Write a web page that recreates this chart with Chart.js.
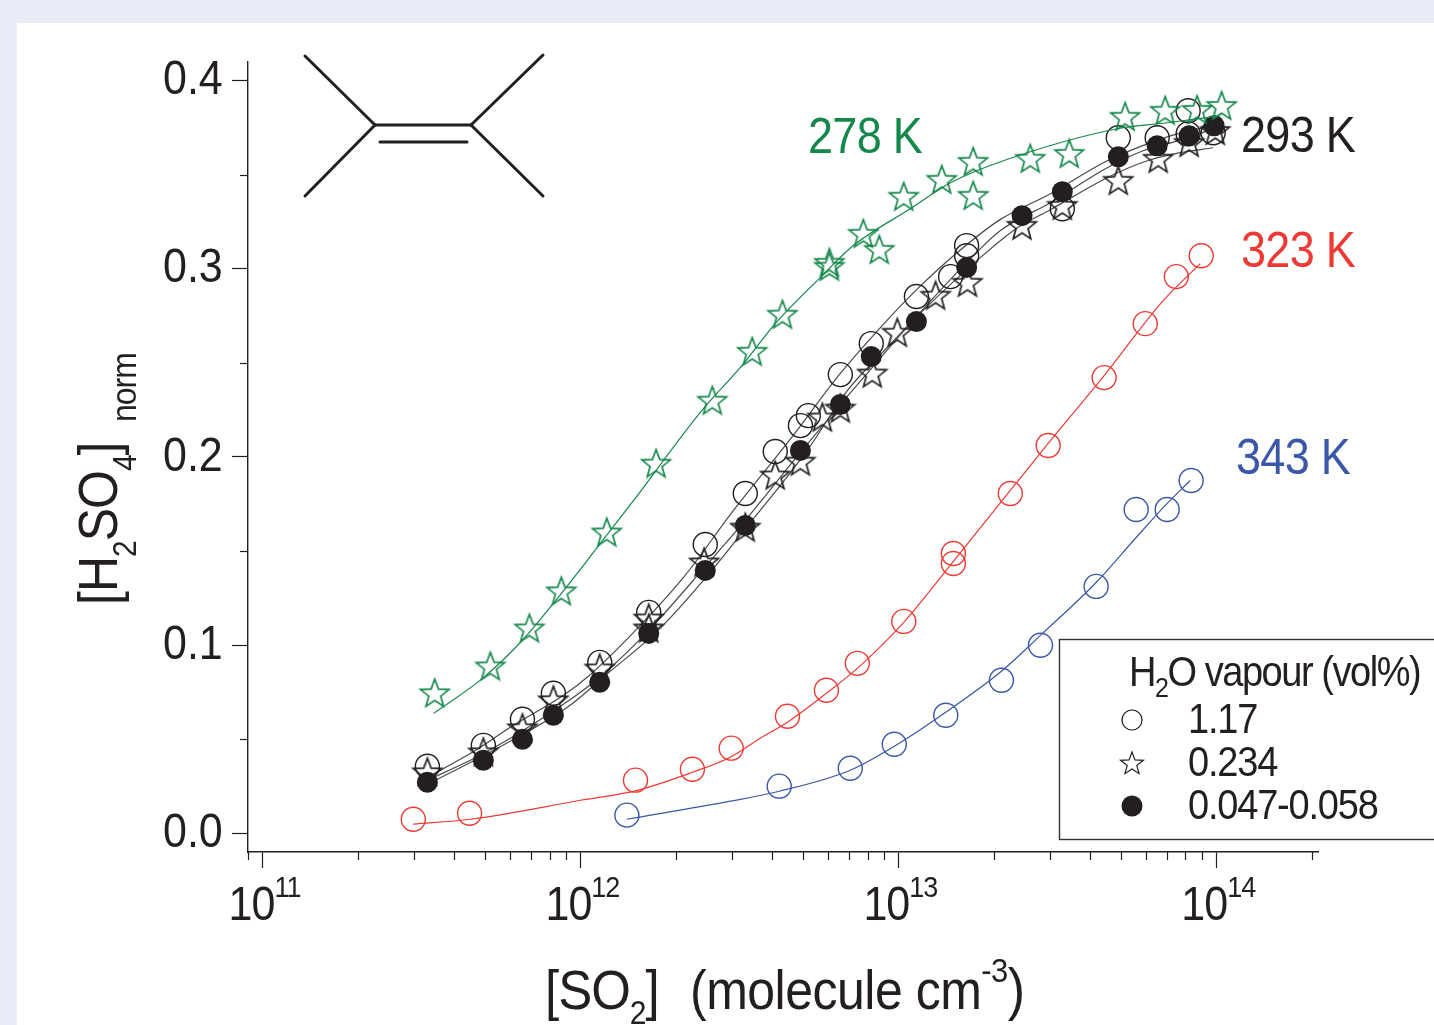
<!DOCTYPE html>
<html>
<head>
<meta charset="utf-8">
<title>H2SO4 vs SO2</title>
<script src="https://cdn.jsdelivr.net/npm/chart.js@4"></script>
<style>
    html, body { margin: 0; padding: 0; width: 1434px; height: 1025px; overflow: hidden; background: #e8edf7; }
    #panel { position: absolute; left: 17px; top: 23px; right: 0; bottom: 0; background: #ffffff; }
    #chart { position: absolute; left: 0; top: 0; }
</style>
</head>
<body>
<div id="panel"></div>
<canvas id="chart" width="1434" height="1025"></canvas>
<script>
// Axis ticks
const xMajorTicks = [1e11, 1e12, 1e13, 1e14];
const xTickExponents = ['11', '12', '13', '14'];
const xMinorTicks = [9e10, 2e11, 3e11, 4e11, 5e11, 6e11, 7e11, 8e11, 9e11,
    2e12, 3e12, 4e12, 5e12, 6e12, 7e12, 8e12, 9e12,
    2e13, 3e13, 4e13, 5e13, 6e13, 7e13, 8e13, 9e13, 2e14];
const yMajorTicks = [0, 0.1, 0.2, 0.3, 0.4];
const yTickLabels = ['0.0', '0.1', '0.2', '0.3', '0.4'];
const yMinorTicks = [0.05, 0.15, 0.25, 0.35];

// 278 K, 0.234 vol% (stars)
const x278 = [3.48e11, 5.21e11, 6.91e11, 8.71e11, 1.21e12, 1.73e12, 2.60e12, 3.47e12, 4.32e12, 6.07e12, 6.07e12, 7.76e12, 8.71e12, 1.04e13, 1.37e13, 1.72e13, 1.72e13, 2.60e13, 3.45e13, 5.17e13, 6.91e13, 8.71e13, 1.04e14];
const y278 = [0.0744, 0.0887, 0.1089, 0.1286, 0.1599, 0.1965, 0.2300, 0.2560, 0.2757, 0.3033, 0.3012, 0.3187, 0.3102, 0.3384, 0.3474, 0.3570, 0.3389, 0.3586, 0.3612, 0.3809, 0.3841, 0.3846, 0.3867];
const fit278x = [3.45e11, 4.92e11, 6.48e11, 8.22e11, 1.13e12, 1.47e12, 2.38e12, 3.26e12, 4.05e12, 5.68e12, 7.22e12, 1.09e13, 1.46e13, 2.14e13, 4.88e13, 7.01e13, 1.03e14];
const fit278y = [0.0637, 0.0823, 0.1015, 0.1222, 0.1519, 0.1769, 0.2236, 0.2497, 0.2699, 0.2954, 0.3124, 0.3320, 0.3458, 0.3575, 0.3745, 0.3777, 0.3814];

// 293 K, 1.17 vol% (open circles)
const x293open = [3.30e11, 4.95e11, 6.57e11, 8.22e11, 1.15e12, 1.64e12, 2.47e12, 3.30e12, 4.10e12, 4.92e12, 5.21e12, 6.57e12, 8.22e12, 1.14e13, 1.46e13, 1.64e13, 1.64e13, 3.28e13, 4.92e13, 6.52e13, 8.16e13, 8.16e13, 9.78e13];
const y293open = [0.0356, 0.0467, 0.0606, 0.0744, 0.0908, 0.1174, 0.1535, 0.1806, 0.2029, 0.2167, 0.2220, 0.2438, 0.2603, 0.2853, 0.2959, 0.3124, 0.3070, 0.3320, 0.3697, 0.3697, 0.3841, 0.3718, 0.3724];
// 293 K, 0.234 vol% (stars)
const x293star = [3.30e11, 4.95e11, 6.57e11, 8.22e11, 1.15e12, 1.64e12, 1.64e12, 2.45e12, 3.30e12, 4.10e12, 4.92e12, 5.77e12, 6.57e12, 8.28e12, 9.93e12, 1.31e13, 1.65e13, 2.45e13, 3.28e13, 4.92e13, 6.57e13, 8.22e13, 9.93e13];
const y293star = [0.0324, 0.0430, 0.0558, 0.0707, 0.0876, 0.1142, 0.1089, 0.1440, 0.1625, 0.1902, 0.1976, 0.2210, 0.2258, 0.2444, 0.2661, 0.2858, 0.2927, 0.3230, 0.3336, 0.3469, 0.3586, 0.3671, 0.3734];
// 293 K, 0.047-0.058 vol% (filled circles)
const x293full = [3.30e11, 4.95e11, 6.57e11, 8.22e11, 1.15e12, 1.64e12, 2.47e12, 3.30e12, 4.92e12, 6.57e12, 8.22e12, 1.14e13, 1.64e13, 2.45e13, 3.28e13, 4.92e13, 6.52e13, 8.22e13, 9.85e13];
const y293full = [0.0271, 0.0388, 0.0499, 0.0627, 0.0802, 0.1062, 0.1397, 0.1636, 0.2035, 0.2279, 0.2534, 0.2720, 0.3007, 0.3283, 0.3410, 0.3596, 0.3655, 0.3708, 0.3761];
// 293 K fit lines
const fit293ax = [3.30e11, 4.57e11, 6.02e11, 8.84e11, 1.05e12, 1.47e12, 2.11e12, 3.03e12, 4.54e12, 6.57e12, 8.78e12, 1.15e13, 1.53e13, 2.09e13, 3.01e13, 4.54e13, 6.07e13, 7.54e13, 9.78e13];
const fit293ay = [0.0297, 0.0430, 0.0563, 0.0733, 0.0829, 0.1068, 0.1360, 0.1716, 0.2088, 0.2444, 0.2688, 0.2895, 0.3086, 0.3262, 0.3400, 0.3575, 0.3665, 0.3718, 0.3761];
const fit293bx = [3.30e11, 4.57e11, 6.02e11, 8.84e11, 1.15e12, 1.64e12, 2.47e12, 3.30e12, 4.92e12, 6.57e12, 8.22e12, 1.14e13, 1.64e13, 2.09e13, 3.01e13, 4.54e13, 5.89e13, 7.54e13, 9.37e13];
const fit293by = [0.0282, 0.0393, 0.0505, 0.0685, 0.0829, 0.1078, 0.1418, 0.1663, 0.2024, 0.2279, 0.2470, 0.2746, 0.3033, 0.3203, 0.3352, 0.3538, 0.3628, 0.3681, 0.3734];
const fit293cx = [3.30e11, 5.48e11, 9.10e11, 1.22e12, 1.78e12, 2.70e12, 3.12e12, 5.17e12, 6.91e12, 9.23e12, 1.11e13, 1.81e13, 2.37e13, 3.01e13, 4.54e13, 6.07e13, 7.70e13, 9.78e13];
const fit293cy = [0.0260, 0.0452, 0.0669, 0.0850, 0.1089, 0.1434, 0.1567, 0.2035, 0.2353, 0.2582, 0.2725, 0.3060, 0.3219, 0.3315, 0.3485, 0.3575, 0.3618, 0.3644];

// 323 K
const x323 = [2.98e11, 4.48e11, 1.49e12, 2.25e12, 2.98e12, 4.48e12, 5.94e12, 7.43e12, 1.04e13, 1.49e13, 1.49e13, 2.25e13, 2.96e13, 4.44e13, 5.98e13, 7.49e13, 8.97e13];
const y323 = [0.0074, 0.0106, 0.0282, 0.0340, 0.0452, 0.0622, 0.0760, 0.0903, 0.1126, 0.1487, 0.1434, 0.1806, 0.2061, 0.2422, 0.2709, 0.2959, 0.3070];
const fit323x = [2.98e11, 4.51e11, 1.00e12, 1.51e12, 2.25e12, 2.96e12, 3.68e12, 4.48e12, 5.94e12, 7.43e12, 1.04e13, 1.49e13, 2.25e13, 2.96e13, 4.44e13, 6.81e13, 8.91e13];
const fit323y = [0.0048, 0.0074, 0.0175, 0.0228, 0.0324, 0.0404, 0.0505, 0.0590, 0.0744, 0.0876, 0.1121, 0.1445, 0.1822, 0.2072, 0.2433, 0.2831, 0.3028];

// 343 K
const x343 = [1.40e12, 4.22e12, 7.06e12, 9.71e12, 1.41e13, 2.11e13, 2.80e13, 4.19e13, 5.60e13, 7.01e13, 8.34e13];
const y343 = [0.0096, 0.0250, 0.0345, 0.0473, 0.0627, 0.0813, 0.0999, 0.1312, 0.1721, 0.1721, 0.1875];
const fit343x = [1.40e12, 2.96e12, 4.22e12, 7.06e12, 9.71e12, 1.41e13, 2.11e13, 2.80e13, 4.19e13, 5.60e13, 7.01e13, 8.28e13];
const fit343y = [0.0074, 0.0170, 0.0223, 0.0335, 0.0462, 0.0643, 0.0861, 0.1052, 0.1333, 0.1572, 0.1753, 0.1875];

const BLACK = '#231f20';
const GREY = '#4a4a4a';
const GREEN = '#14884a';
const RED = '#ee3a34';
const BLUE = '#3a57a8';
const FONT = '"Liberation Sans", Arial, sans-serif';
// The reference type is a little taller than Liberation Sans at the same width
const TALL = 1.1;

function zip(xs, ys) {
    return xs.map((x, i) => ({ x: x, y: ys[i] }));
}

// Chart.js' own 'star' is an asterisk, so the five-pointed one goes on a small canvas
function makeStar(color, radius, lineWidth) {
    const size = Math.ceil(radius * 2 + 6);
    const c = document.createElement('canvas');
    c.width = size;
    c.height = size;
    const g = c.getContext('2d');
    g.translate(size / 2, size / 2 + 1);
    tracePentagram(g, 0, 0, radius);
    g.strokeStyle = color;
    g.lineWidth = lineWidth;
    g.lineJoin = 'miter';
    g.stroke();
    return c;
}

function tracePentagram(g, cx, cy, radius) {
    g.beginPath();
    for (let i = 0; i < 10; i++) {
        const r = i % 2 === 0 ? radius : radius * 0.42;
        const a = -Math.PI / 2 + i * Math.PI / 5;
        g.lineTo(cx + r * Math.cos(a), cy + r * Math.sin(a));
    }
    g.closePath();
}

function fitLine(xs, ys, color) {
    return {
        data: zip(xs, ys),
        showLine: true,
        borderColor: color,
        borderWidth: 1.2,
        pointRadius: 0,
        cubicInterpolationMode: 'monotone',
        fill: false
    };
}

function openCircles(xs, ys, color) {
    return {
        data: zip(xs, ys),
        showLine: false,
        pointStyle: 'circle',
        pointRadius: 12,
        pointBorderWidth: 1.4,
        pointBorderColor: color,
        pointBackgroundColor: 'rgba(0,0,0,0)'
    };
}

function stars(xs, ys, color) {
    return {
        data: zip(xs, ys),
        showLine: false,
        pointStyle: makeStar(color, 15, 1.7)
    };
}

function fullCircles(xs, ys) {
    return {
        data: zip(xs, ys),
        showLine: false,
        pointStyle: 'circle',
        pointRadius: 10.5,
        pointBorderWidth: 0,
        pointBackgroundColor: BLACK
    };
}

// Mixed-size text: parts are [text, size, baseline shift]
function richText(ctx, parts, x, y, spacing, color, centered) {
    ctx.save();
    ctx.fillStyle = color;
    ctx.textAlign = 'left';
    ctx.textBaseline = 'alphabetic';
    ctx.letterSpacing = spacing + 'px';
    let pos = x;
    if (centered) {
        let total = 0;
        parts.forEach(p => {
            ctx.font = p[1] + 'px ' + FONT;
            total += ctx.measureText(p[0]).width;
        });
        pos = x - total / 2;
    }
    parts.forEach(p => {
        ctx.font = p[1] + 'px ' + FONT;
        ctx.save();
        ctx.translate(pos, y + p[2]);
        ctx.scale(1, TALL);
        ctx.fillText(p[0], 0, 0);
        ctx.restore();
        pos += ctx.measureText(p[0]).width;
    });
    ctx.restore();
}

function line(ctx, x1, y1, x2, y2) {
    ctx.beginPath();
    ctx.moveTo(x1, y1);
    ctx.lineTo(x2, y2);
    ctx.stroke();
}

const extrasPlugin = {
    id: 'extras',
    afterDraw(chart) {
        const ctx = chart.ctx;
        const xs = chart.scales.x;
        const ys = chart.scales.y;

        // minor ticks, the library only gives one tick length per axis
        ctx.save();
        ctx.strokeStyle = BLACK;
        ctx.lineWidth = 1.2;
        xMinorTicks.forEach(v => {
            const px = Math.round(xs.getPixelForValue(v)) + 0.5;
            line(ctx, px, xs.top, px, xs.top + 8);
        });
        yMinorTicks.forEach(v => {
            const py = Math.round(ys.getPixelForValue(v)) + 0.5;
            line(ctx, ys.right, py, ys.right - 8, py);
        });
        ctx.restore();

        // tick labels, drawn here for the superscripts and the taller type
        xMajorTicks.forEach((v, i) => {
            richText(ctx, [['10', 43, 0], [xTickExponents[i], 27, -23]], xs.getPixelForValue(v) + 2, 920, -1, BLACK, true);
        });
        yMajorTicks.forEach((v, i) => {
            richText(ctx, [[yTickLabels[i], 43, 0]], 163, ys.getPixelForValue(v) + 13.5, 0, BLACK, false);
        });

        // axis titles
        richText(ctx, [['[SO', 51, 0], ['2', 30, 15], [']', 51, 0]], 545, 1009, -1, BLACK, false);
        richText(ctx, [['(molecule cm', 50, 0], ['-3', 31, -27], [')', 52, 0]], 690, 1009, -0.5, BLACK, false);
        ctx.save();
        ctx.translate(117, 605);
        ctx.rotate(-Math.PI / 2);
        richText(ctx, [['[H', 50, 0], ['2', 30, 19], ['SO', 50, 0], ['4', 30, 19], [']', 50, 0]], 0, 0, -1, BLACK, false);
        richText(ctx, [['norm', 32, 19]], 183, 0, -1, BLACK, false);
        ctx.restore();

        // temperature labels
        richText(ctx, [['278 K', 45, 0]], 808, 153, -0.7, GREEN, false);
        richText(ctx, [['293 K', 45, 0]], 1241, 152, -0.7, BLACK, false);
        richText(ctx, [['323 K', 45, 0]], 1241, 267, -0.7, RED, false);
        richText(ctx, [['343 K', 45, 0]], 1236, 474, -0.7, BLUE, false);

        // legend box runs off the right edge of the picture
        ctx.save();
        ctx.strokeStyle = '#333333';
        ctx.lineWidth = 1.4;
        ctx.strokeRect(1059.5, 639.5, 400, 200);
        ctx.strokeStyle = BLACK;
        ctx.lineWidth = 1.2;
        ctx.beginPath();
        ctx.arc(1132, 720, 10, 0, Math.PI * 2);
        ctx.stroke();
        tracePentagram(ctx, 1132, 764, 12);
        ctx.stroke();
        ctx.fillStyle = BLACK;
        ctx.beginPath();
        ctx.arc(1132, 806, 10.5, 0, Math.PI * 2);
        ctx.fill();
        ctx.restore();
        richText(ctx, [['H', 38, 0], ['2', 25, 11], ['O vapour (vol%)', 38, 0]], 1129, 686, -1.45, BLACK, false);
        richText(ctx, [['1.17', 38, 0]], 1188, 733, -1.2, BLACK, false);
        richText(ctx, [['0.234', 38, 0]], 1188, 776, -1.2, BLACK, false);
        richText(ctx, [['0.047-0.058', 38, 0]], 1188, 819, -1.2, BLACK, false);

        // C=C structure sketch
        ctx.save();
        ctx.strokeStyle = BLACK;
        ctx.lineWidth = 3;
        ctx.lineCap = 'round';
        line(ctx, 305, 56, 375, 125);
        line(ctx, 305, 196, 375, 125);
        line(ctx, 375, 125, 471, 125);
        line(ctx, 380, 142, 467, 142);
        line(ctx, 471, 125, 543, 55);
        line(ctx, 471, 125, 543, 196);
        ctx.restore();
    }
};

// Listed bottom to top; Chart.js paints the first dataset last, hence the reverse
const datasets = [
    fitLine(fit293ax, fit293ay, GREY),
    fitLine(fit293bx, fit293by, GREY),
    fitLine(fit293cx, fit293cy, GREY),
    openCircles(x293open, y293open, BLACK),
    stars(x293star, y293star, BLACK),
    fullCircles(x293full, y293full),
    fitLine(fit278x, fit278y, GREEN),
    stars(x278, y278, GREEN),
    fitLine(fit323x, fit323y, RED),
    openCircles(x323, y323, RED),
    fitLine(fit343x, fit343y, BLUE),
    openCircles(x343, y343, BLUE)
].reverse();

new Chart(document.getElementById('chart'), {
    type: 'scatter',
    data: { datasets: datasets },
    options: {
        responsive: false,
        animation: false,
        layout: { padding: { top: 62, right: 116, left: 0, bottom: 0 } },
        plugins: {
            legend: { display: false },
            tooltip: { enabled: false }
        },
        scales: {
            x: {
                type: 'logarithmic',
                min: 9e10,
                max: 2.09e14,
                afterBuildTicks: s => { s.ticks = xMajorTicks.map(v => ({ value: v })); },
                afterFit: s => { s.height = 173; },
                border: { color: BLACK, width: 1.4 },
                grid: { drawOnChartArea: false, tickLength: 16, tickColor: BLACK, tickWidth: 1.2 },
                ticks: { display: false }
            },
            y: {
                type: 'linear',
                min: -0.01,
                max: 0.41,
                afterBuildTicks: s => { s.ticks = yMajorTicks.map(v => ({ value: v })); },
                afterFit: s => { s.width = 248; },
                border: { color: BLACK, width: 1.4 },
                grid: { drawOnChartArea: false, tickLength: 16, tickColor: BLACK, tickWidth: 1.2 },
                ticks: { display: false }
            }
        }
    },
    plugins: [extrasPlugin]
});
</script>
</body>
</html>
